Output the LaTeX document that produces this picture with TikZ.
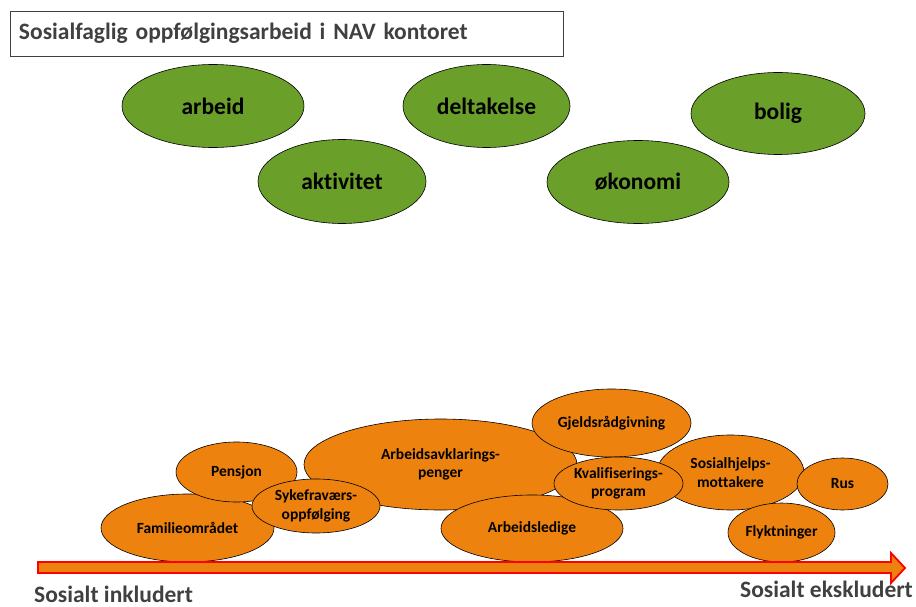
\documentclass[tikz,border=0pt]{standalone}
\usepackage{fontspec}
\setmainfont{Carlito}[RawFeature=-liga]
\usetikzlibrary{shapes.geometric}
\definecolor{navgreen}{RGB}{106,159,41}
\definecolor{navorange}{RGB}{238,130,15}
\definecolor{navgray}{RGB}{64,64,64}
\tikzset{>=latex}

\begin{document}
\begin{tikzpicture}[x=1pt, y=-1pt,
	tema/.style={draw, ellipse, fill=navgreen, inner sep=0pt, line width=0.6pt, font=\fontsize{23.5}{28}\selectfont\bfseries},
	gruppe/.style={draw, ellipse, fill=navorange, inner sep=0pt, line width=0.6pt, align=center, font=\fontsize{15.5}{18.5}\selectfont\bfseries},
	overskrift/.style={text=navgray, font=\fontsize{23.5}{28}\selectfont\bfseries}]
		\useasboundingbox (0,0) rectangle (916,607);
		
		% tittel
		\node[overskrift, draw=black!75, line width=0.6pt, inner xsep=9pt, text width=535pt, align=left, minimum height=45pt] (tittel) at (286.5,33.5) {Sosialfaglig oppfølgingsarbeid i NAV kontoret};
		
		% temaer
		\node[tema, minimum width=182pt, minimum height=83pt] (arbeid)     at (213,106)   {arbeid};
		\node[tema, minimum width=168pt, minimum height=84pt] (aktivitet)  at (342,181.5) {aktivitet};
		\node[tema, minimum width=167pt, minimum height=83pt] (deltakelse) at (486.5,106) {deltakelse};
		\node[tema, minimum width=182pt, minimum height=83pt] (okonomi)    at (638,182)   {økonomi};
		\node[tema, minimum width=174pt, minimum height=82pt] (bolig)      at (778,113.5) {bolig};
		
		% grupper
		\node[gruppe, minimum width=173pt, minimum height=68pt] (familie)   at (187.5,528)   {Familieområdet};
		\node[gruppe, minimum width=121pt, minimum height=60pt] (pensjon)   at (236.5,472)   {Pensjon};
		\node[gruppe, minimum width=273pt, minimum height=91pt] (aap)       at (440.5,464.5) {Arbeidsavklarings-\\penger};
		\node[gruppe, minimum width=128pt, minimum height=54pt] (sykefrav)  at (316,506)     {Sykefraværs-\\oppfølging};
		\node[gruppe, minimum width=182pt, minimum height=67pt] (ledige)    at (532,528.5)   {Arbeidsledige};
		\node[gruppe, minimum width=159pt, minimum height=68pt] (gjeld)     at (611.5,423)   {Gjeldsrådgivning};
		\node[gruppe, minimum width=147pt, minimum height=75pt] (sosialh)   at (730.5,472.5) {Sosialhjelps-\\mottakere};
		\node[gruppe, minimum width=91pt,  minimum height=52pt] (rus)       at (842.5,484)   {Rus};
		\node[gruppe, minimum width=107pt, minimum height=59pt] (flykt)     at (781.5,532.5) {Flyktninger};
		\node[gruppe, minimum width=129pt, minimum height=53pt] (kvp)       at (618.5,483.5) {Kvalifiserings-\\program};
		
		% pil
		\draw[red, line width=1.8pt, fill=navorange, line join=miter] (38,562) -- (891,562) -- (891,553) -- (905,568) -- (891,583) -- (891,573) -- (38,573) -- cycle;
		\node[overskrift, anchor=base west, inner sep=0pt] (inkludert)  at (34,602)  {Sosialt inkludert};
		\node[overskrift, anchor=base east, inner sep=0pt] (ekskludert) at (913,597) {Sosialt ekskludert};
	\end{tikzpicture}
\end{document}
